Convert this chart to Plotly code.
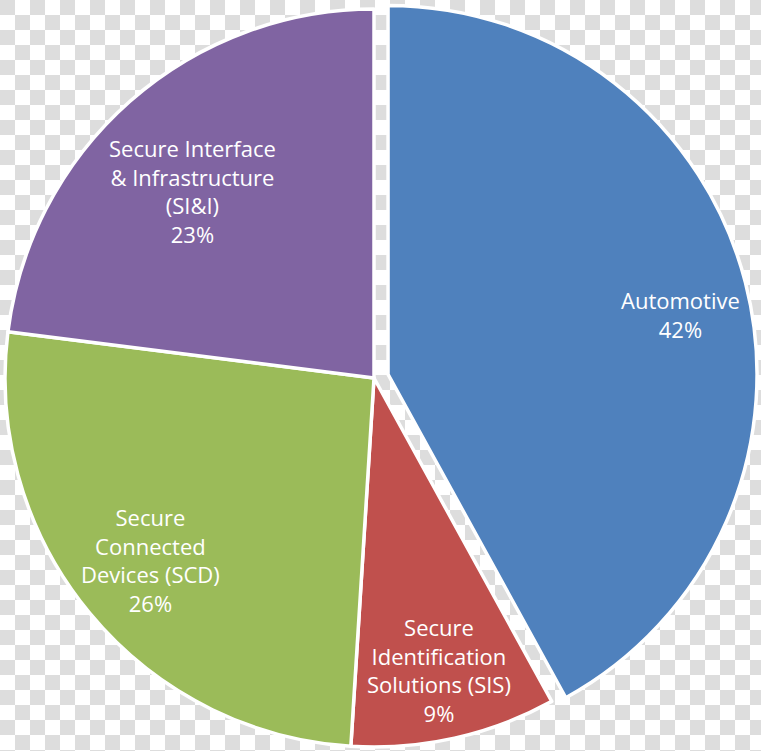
import base64
import math
import plotly.graph_objects as go

labels = ["Automotive", "Secure Identification Solutions (SIS)",
          "Secure Connected Devices (SCD)", "Secure Interface & Infrastructure (SI&I)"]
display_labels = ["Automotive", "Secure<br>Identification<br>Solutions (SIS)",
                  "Secure<br>Connected<br>Devices (SCD)",
                  "Secure Interface<br>& Infrastructure<br>(SI&I)"]
values = [42, 9, 26, 23]
colors = ["#4F81BD", "#C0504D", "#9BBB59", "#8064A2"]
exploded = [True, False, False, False]

# ---- layout geometry (pixels) ----
W, H = 761, 751
R = 369                       # pie radius
C0 = (374, 378)               # centre of the un-exploded slices
PULL_PX = 14.5                # explode distance of the Automotive slice
LABEL_RF = [0.81, 0.81, 0.78, 0.705]  # label distance as fraction of radius
LABEL_DA = [2.9, 0.0, 0.5, -2.7]      # label angle tweak (degrees)

total = sum(values)
mid_angles = []
acc = 0
for v in values:
    mid_angles.append((acc + v / 2) / total * 2 * math.pi)
    acc += v

def centre_for(i):
    if exploded[i]:
        a = mid_angles[i]
        return (C0[0] + PULL_PX * math.sin(a), C0[1] - PULL_PX * math.cos(a))
    return C0

def domain_for(c):
    return dict(x=[(c[0] - R) / W, (c[0] + R) / W],
                y=[(H - c[1] - R) / H, (H - c[1] + R) / H])

C1 = centre_for(0)
TRANSP = "rgba(0,0,0,0)"

def make_trace(c, show):
    return go.Pie(
        labels=labels, values=values, sort=False, direction="clockwise", rotation=0,
        textinfo="none", hoverinfo="label+percent",
        marker=dict(colors=[col if s else TRANSP for col, s in zip(colors, show)],
                    line=dict(color="white", width=[3.5 if s else 0 for s in show])),
        domain=domain_for(c), showlegend=False,
    )

fig = go.Figure()
fig.add_trace(make_trace(C0, [not e for e in exploded]))
fig.add_trace(make_trace(C1, exploded))

# slice labels
for i, (txt, v) in enumerate(zip(display_labels, values)):
    c = centre_for(i)
    a = mid_angles[i] + math.radians(LABEL_DA[i])
    px = c[0] + LABEL_RF[i] * R * math.sin(a)
    py = c[1] - LABEL_RF[i] * R * math.cos(a)
    fig.add_annotation(
        x=px / W, y=1 - py / H, xref="paper", yref="paper",
        text=f"{txt}<br>{round(v / total * 100)}%", showarrow=False,
        font=dict(family="Open Sans", size=22, color="white"), align="center",
        xanchor="center", yanchor="middle",
    )

# transparent-style checkerboard background
cell = 15
svg = (
    f'<svg xmlns="http://www.w3.org/2000/svg" width="{W}" height="{H}">'
    f'<defs><pattern id="c" width="{2*cell}" height="{2*cell}" patternUnits="userSpaceOnUse">'
    f'<rect width="{2*cell}" height="{2*cell}" fill="#ffffff"/>'
    f'<rect width="{cell}" height="{cell}" fill="#dddddd"/>'
    f'<rect x="{cell}" y="{cell}" width="{cell}" height="{cell}" fill="#dddddd"/>'
    f'</pattern></defs><rect width="{W}" height="{H}" fill="url(#c)"/></svg>'
)
src = "data:image/svg+xml;base64," + base64.b64encode(svg.encode()).decode()

fig.update_layout(
    width=W, height=H,
    margin=dict(l=0, r=0, t=0, b=0),
    showlegend=False,
    paper_bgcolor="white",
    plot_bgcolor="rgba(0,0,0,0)",
    images=[dict(source=src, xref="paper", yref="paper", x=0, y=1,
                 sizex=1, sizey=1, sizing="stretch", layer="below",
                 xanchor="left", yanchor="top")],
)

fig.write_html("out.html", config={"displayModeBar": False},
               post_script="document.body.style.margin='0';")
